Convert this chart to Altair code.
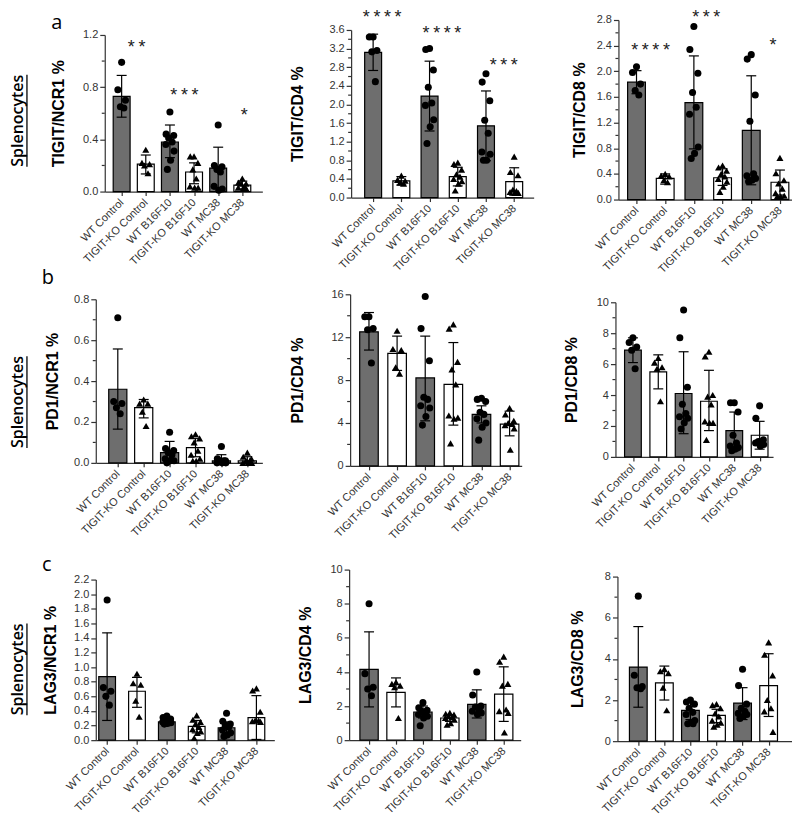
import altair as alt
import pandas as pd

GROUPS = ["WT Control", "TIGIT-KO Control", "WT B16F10", "TIGIT-KO B16F10", "WT MC38", "TIGIT-KO MC38"]
ROW_LETTERS = ["a", "b", "c"]
ROW_LABEL = "Splenocytes"

TITLES = [["TIGIT/NCR1 %", "TIGIT/CD4 %", "TIGIT/CD8 %"],
          ["PD1/NCR1 %", "PD1/CD4 %", "PD1/CD8 %"],
          ["LAG3/NCR1 %", "LAG3/CD4 %", "LAG3/CD8 %"]]

# y axis: max, major step, minor step, label format
Y_AXES = [[(1.2, 0.4, 0.2, ".1f"), (3.6, 0.4, 0.2, ".1f"), (2.8, 0.4, 0.2, ".1f")],
          [(0.8, 0.2, 0.1, ".1f"), (16, 4, 2, "d"), (10, 2, 1, "d")],
          [(2.2, 0.2, 0.2, ".1f"), (10, 2, 1, "d"), (8, 2, 1, "d")]]

# ---- TIGIT/NCR1
MEAN_A1 = [0.73, 0.21, 0.38, 0.15, 0.18, 0.05]
LO_A1 = [0.57, 0.135, 0.26, 0.06, 0.02, 0.02]
HI_A1 = [0.89, 0.28, 0.51, 0.22, 0.34, 0.08]
PTS_A1 = [[0.99, 0.78, 0.70, 0.65, 0.64],
          [0.32, 0.22, 0.21, 0.20, 0.14],
          [0.61, 0.44, 0.43, 0.41, 0.38, 0.36, 0.31, 0.24, 0.17],
          [0.27, 0.27, 0.22, 0.17, 0.10, 0.04, 0.03, 0.03],
          [0.51, 0.20, 0.19, 0.17, 0.15, 0.04, 0.02, 0.01],
          [0.10, 0.07, 0.06, 0.06, 0.04, 0.03, 0.02, 0.02]]
# ---- TIGIT/CD4
MEAN_A2 = [3.12, 0.36, 2.18, 0.45, 1.54, 0.34]
LO_A2 = [2.73, 0.27, 1.43, 0.25, 0.79, 0.05]
HI_A2 = [3.51, 0.45, 2.93, 0.65, 2.29, 0.64]
PTS_A2 = [[3.45, 3.45, 3.16, 3.13, 2.49],
          [0.47, 0.38, 0.36, 0.32, 0.30],
          [3.20, 3.18, 2.74, 2.37, 2.03, 1.98, 1.67, 1.52, 1.16],
          [0.75, 0.72, 0.60, 0.50, 0.45, 0.40, 0.35, 0.30, 0.15],
          [2.66, 2.48, 2.08, 1.66, 1.38, 0.98, 0.93, 0.80, 0.80],
          [0.88, 0.55, 0.48, 0.17, 0.14, 0.12, 0.10, 0.10]]
# ---- TIGIT/CD8
MEAN_A3 = [1.83, 0.33, 1.51, 0.34, 1.08, 0.27]
LO_A3 = [1.65, 0.24, 0.79, 0.22, 0.23, 0.07]
HI_A3 = [2.01, 0.40, 2.24, 0.48, 1.93, 0.46]
PTS_A3 = [[2.07, 1.98, 1.80, 1.70, 1.63],
          [0.40, 0.37, 0.36, 0.30, 0.27],
          [2.70, 2.34, 1.97, 1.67, 1.44, 1.33, 0.82, 0.72, 0.64],
          [0.53, 0.50, 0.45, 0.40, 0.36, 0.32, 0.28, 0.20, 0.12],
          [2.26, 2.19, 1.63, 1.22, 0.40, 0.37, 0.33, 0.30, 0.28],
          [0.65, 0.41, 0.30, 0.25, 0.17, 0.10, 0.06, 0.05, 0.05]]
# ---- PD1/NCR1
MEAN_B1 = [0.36, 0.27, 0.05, 0.075, 0.01, 0.01]
LO_B1 = [0.165, 0.22, 0.0, 0.03, 0.0, 0.0]
HI_B1 = [0.557, 0.31, 0.105, 0.12, 0.04, 0.03]
PTS_B1 = [[0.71, 0.30, 0.29, 0.27, 0.24],
          [0.31, 0.29, 0.29, 0.25, 0.18],
          [0.15, 0.07, 0.06, 0.05, 0.04, 0.02, 0.01, 0.01, 0.00],
          [0.14, 0.13, 0.12, 0.10, 0.06, 0.04, 0.02, 0.01, 0.01],
          [0.08, 0.02, 0.01, 0.01, 0.01, 0.00, 0.00, 0.00],
          [0.05, 0.03, 0.02, 0.01, 0.01, 0.00, 0.00, 0.00]]
# ---- PD1/CD4
MEAN_B2 = [12.5, 10.5, 8.2, 7.6, 4.8, 3.9]
LO_B2 = [10.8, 8.9, 4.2, 3.8, 4.0, 2.8]
HI_B2 = [14.3, 12.1, 12.1, 11.5, 5.6, 5.1]
PTS_B2 = [[13.9, 13.9, 12.8, 12.7, 9.6],
          [12.6, 10.9, 10.8, 9.2, 8.6],
          [15.8, 12.8, 9.8, 6.4, 6.2, 5.6, 5.4, 4.6, 3.8],
          [13.2, 12.8, 9.7, 9.0, 7.6, 4.7, 4.5, 4.4, 2.1],
          [6.3, 6.2, 6.0, 5.0, 4.8, 4.4, 4.0, 3.6, 2.4],
          [5.4, 4.8, 4.2, 4.0, 3.9, 3.8, 3.5, 1.5]]
# ---- PD1/CD8
MEAN_B3 = [6.9, 5.5, 4.1, 3.6, 1.7, 1.4]
LO_B3 = [6.1, 4.4, 1.5, 1.7, 0.4, 0.5]
HI_B3 = [7.7, 6.6, 6.8, 5.6, 2.9, 2.3]
PTS_B3 = [[7.7, 7.4, 7.1, 6.9, 5.7],
          [6.4, 6.1, 5.8, 5.7, 3.6],
          [9.5, 7.7, 4.5, 3.4, 2.8, 2.6, 2.5, 2.2, 1.8],
          [6.8, 6.5, 4.0, 3.9, 3.4, 2.3, 2.2, 2.2, 1.1],
          [3.5, 3.5, 2.9, 1.4, 0.9, 0.7, 0.6, 0.5, 0.4],
          [3.3, 2.5, 1.1, 1.0, 0.9, 0.9, 0.8, 0.7]]
# ---- LAG3/NCR1
MEAN_C1 = [0.87, 0.67, 0.25, 0.19, 0.17, 0.31]
LO_C1 = [0.27, 0.45, 0.22, 0.10, 0.09, 0.01]
HI_C1 = [1.47, 0.86, 0.28, 0.27, 0.25, 0.61]
PTS_C1 = [[1.92, 0.72, 0.67, 0.60, 0.48],
          [0.91, 0.78, 0.76, 0.54, 0.32],
          [0.33, 0.31, 0.29, 0.28, 0.26, 0.25, 0.24, 0.23, 0.22],
          [0.34, 0.28, 0.25, 0.22, 0.18, 0.15, 0.12, 0.10, 0.03],
          [0.37, 0.26, 0.22, 0.20, 0.18, 0.14, 0.10, 0.07, 0.05],
          [0.71, 0.68, 0.39, 0.27, 0.27, 0.26, 0.25]]
# ---- LAG3/CD4
MEAN_C2 = [4.15, 2.8, 1.65, 1.3, 2.1, 2.7]
LO_C2 = [1.95, 1.95, 1.3, 1.1, 1.3, 1.1]
HI_C2 = [6.35, 3.65, 2.0, 1.5, 2.95, 4.3]
PTS_C2 = [[8.0, 3.9, 3.1, 3.0, 2.6],
          [3.4, 3.3, 3.2, 3.1, 1.3],
          [2.2, 1.9, 1.75, 1.7, 1.6, 1.5, 1.4, 1.3, 0.85],
          [1.6, 1.55, 1.5, 1.4, 1.35, 1.3, 1.2, 1.0, 0.9],
          [4.0, 2.65, 2.0, 1.95, 1.8, 1.7, 1.6, 1.5],
          [4.9, 4.6, 3.3, 3.2, 1.8, 1.7, 1.6, 0.45]]
# ---- LAG3/CD8
MEAN_C3 = [3.6, 2.83, 1.5, 1.25, 1.85, 2.7]
LO_C3 = [1.65, 2.0, 1.05, 0.9, 1.05, 1.2]
HI_C3 = [5.57, 3.65, 1.9, 1.55, 2.6, 4.25]
PTS_C3 = [[7.05, 3.2, 2.65, 2.6, 2.55],
          [3.5, 3.4, 3.3, 2.6, 1.5],
          [2.0, 1.9, 1.8, 1.6, 1.4, 1.3, 1.0, 0.9, 0.85, 0.85],
          [1.8, 1.75, 1.6, 1.35, 1.2, 1.0, 0.9, 0.8, 0.7],
          [3.5, 2.7, 1.8, 1.6, 1.45, 1.35, 1.3, 1.2, 1.1],
          [4.8, 4.2, 3.2, 2.0, 1.6, 1.45, 0.45]]

# significance marks: (category position, y value, text)
STARS_A1 = [(0.62, 1.13, "*\u2009*"), (2.6, 0.76, "*\u2009*\u2009*"), (5.08, 0.61, "*")]
STARS_A2 = [(0.32, 3.98, "*\u2009*\u2009*\u2009*"), (2.44, 3.6, "*\u2009*\u2009*\u2009*"), (4.63, 2.9, "*\u2009*\u2009*")]
STARS_A3 = [(0.49, 2.37, "*\u2009*\u2009*\u2009*"), (2.43, 2.97, "*\u2009*\u2009*"), (4.76, 2.45, "*")]

PANELS = [[(MEAN_A1, LO_A1, HI_A1, PTS_A1, STARS_A1),
           (MEAN_A2, LO_A2, HI_A2, PTS_A2, STARS_A2),
           (MEAN_A3, LO_A3, HI_A3, PTS_A3, STARS_A3)],
          [(MEAN_B1, LO_B1, HI_B1, PTS_B1, []),
           (MEAN_B2, LO_B2, HI_B2, PTS_B2, []),
           (MEAN_B3, LO_B3, HI_B3, PTS_B3, [])],
          [(MEAN_C1, LO_C1, HI_C1, PTS_C1, []),
           (MEAN_C2, LO_C2, HI_C2, PTS_C2, []),
           (MEAN_C3, LO_C3, HI_C3, PTS_C3, [])]]

# marker shapes per group (the last PD1/CD8 group uses circles in the original)
SHAPES = [["circle", "triangle-up"] * 3 for _ in range(9)]
SHAPES[5] = ["circle", "triangle-up", "circle", "triangle-up", "circle", "circle"]

# ---------------- layout (page pixel coordinates) ----------------
# left, right, top, bottom of plot area; x-domain min/max; bar half width; title distance
LAYOUT = [[(105, 263, 34, 191, -0.70, 5.83, 0.35, 47),
           (352, 535, 29, 197, -0.78, 5.69, 0.30, 55),
           (620, 798, 19, 199, -0.63, 5.56, 0.31, 40)],
          [(96, 263, 299, 463, -0.85, 5.58, 0.35, 44),
           (351, 523, 294, 466, -0.67, 5.43, 0.33, 54),
           (617, 775, 302, 457, -0.69, 5.53, 0.33, 45)],
          [(96, 275, 580, 741, -0.38, 5.60, 0.28, 46),
           (350, 522, 570, 741, -0.74, 5.63, 0.34, 45),
           (619, 798, 577, 742, -0.80, 6.05, 0.34, 41)]]
COL_X = [0, 262, 524]
COL_W = 262
ROW_Y = [0, 266, 532]
ROW_H = 266
MARGIN = 8
JITTER = [0.0, -0.6, 0.6, -0.2, 0.35, -0.65, 0.65, 0.1, -0.4, 0.4]
LETTER_POS = [(49, 14), (40, 4), (39, 25)]
SPLEN_Y = [112, 128, 130]
STAR_SIZE = 18

FONT = "Liberation Sans"
BAR_GRAY = "#6e6e6e"
AX_COL = "#333333"

label_expr_x = "[" + ",".join("'%s'" % g for g in GROUPS) + "][datum.value]"


def panel(r, c):
    mean, lo, hi, pts, stars = PANELS[r][c]
    L, R, T, B, xmin, xmax, half, tdist = LAYOUT[r][c]
    Ll = L - MARGIN - COL_X[c]
    Rl = R - MARGIN - COL_X[c]
    Tl = T - MARGIN - ROW_Y[r]
    Bl = B - MARGIN - ROW_Y[r]
    step = (Rl - Ll) / (xmax - xmin)
    cap = 5.0 / step
    ymax, major, minor, fmt = Y_AXES[r][c]
    per_px = ymax / (Bl - Tl)
    shapes = SHAPES[r * 3 + c]

    bdf = pd.DataFrame({
        "idx": list(range(6)),
        "mean": mean, "lo": lo, "hi": hi,
        "fill": [BAR_GRAY if g.startswith("WT") else "white" for g in GROUPS],
    })
    bdf["x0"] = bdf["idx"] - half
    bdf["x1"] = bdf["idx"] + half
    bdf["cl"] = bdf["idx"] - cap
    bdf["cr"] = bdf["idx"] + cap
    bdf["base"] = 0.0

    rows = []
    for g, vals in enumerate(pts):
        for k, v in enumerate(sorted(vals, reverse=True)):
            rows.append({"px": g + JITTER[k % len(JITTER)] * half * 0.75, "v": v, "marker": shapes[g]})
    pdf = pd.DataFrame(rows)

    xs = alt.Scale(domain=[xmin, xmax], range=[Ll, Rl], nice=False, zero=False)
    ys = alt.Scale(domain=[0, ymax], range=[Bl, Tl], nice=False, zero=False)

    nmaj = int(round(ymax / major))
    ymajor = [round(k * major, 6) for k in range(nmaj + 1)]
    nmin = int(round(ymax / minor))
    yminor = [round(k * minor, 6) for k in range(nmin + 1)]
    yminor = [v for v in yminor if min(abs(v - m) for m in ymajor) > 1e-6]
    E = 26
    xaxis = alt.Axis(values=list(range(6)), labelExpr=label_expr_x, labelAngle=-45,
                     labelAlign="right", labelBaseline="middle", labelPadding=5,
                     tickSize=4, offset=Bl - ROW_H, title=None, labelFontSize=11,
                     labelFont=FONT, labelColor=AX_COL, domainColor=AX_COL, tickColor=AX_COL,
                     domainWidth=1.2, tickWidth=1.2, grid=False, labelOverlap=False,
                     labelFlush=False, labelBound=False)
    yaxis = alt.Axis(values=ymajor, format=fmt, tickSize=5,
                     offset=-Ll, title=TITLES[r][c], titleFontSize=16, titleFont=FONT,
                     titleFontWeight="bold", titleColor="black", titlePadding=tdist - 9 - E,
                     minExtent=E, maxExtent=E, labelFontSize=11, labelFont=FONT, labelPadding=2,
                     labelColor=AX_COL, domainColor=AX_COL, tickColor=AX_COL, domainWidth=1.2,
                     tickWidth=1.2, grid=False, labelFlush=False, labelOverlap=False)

    def X(f):
        return alt.X(f, scale=xs, axis=xaxis)

    def Y(f):
        return alt.Y(f, scale=ys, axis=yaxis)

    bars = alt.Chart(bdf).mark_bar(stroke="black", strokeWidth=1.2).encode(
        x=X("x0:Q"), x2="x1", y=Y("mean:Q"), y2="base",
        fill=alt.Fill("fill:N", scale=None))
    err = alt.Chart(bdf).mark_rule(color="black", strokeWidth=1.2).encode(
        x=X("idx:Q"), y=Y("lo:Q"), y2="hi")
    cap_hi = alt.Chart(bdf).mark_rule(color="black", strokeWidth=1.2).encode(
        x=X("cl:Q"), x2="cr", y=Y("hi:Q"))
    cap_lo = alt.Chart(bdf).mark_rule(color="black", strokeWidth=1.2).encode(
        x=X("cl:Q"), x2="cr", y=Y("lo:Q"))
    dots = alt.Chart(pdf).mark_point(filled=True, color="black", opacity=1, size=50).encode(
        x=X("px:Q"), y=Y("v:Q"), shape=alt.Shape("marker:N", scale=None))
    layers = [bars, err, cap_hi, cap_lo, dots]

    if yminor:
        mdf = pd.DataFrame({"mv": yminor})
        layers.append(alt.Chart(mdf).mark_rule(color=AX_COL, strokeWidth=1.2).encode(
            y=Y("mv:Q"), x=alt.value(Ll - 3), x2=alt.value(Ll)))

    if stars:
        sdf = pd.DataFrame(stars, columns=["sx", "sy", "st"])
        # anchor the em box top so that the glyph sits at the read value, kept inside the view
        top_val = ymax + Tl * per_px
        sdf["sa"] = (sdf["sy"] + 0.3 * STAR_SIZE * per_px).clip(upper=top_val)
        layers.append(alt.Chart(sdf).mark_text(font=FONT, fontSize=STAR_SIZE, color="#222",
                                               baseline="top").encode(
            x=X("sx:Q"), y=Y("sa:Q"), text="st:N"))

    if c == 0:
        lx, ly = LETTER_POS[r]
        layers.append(alt.Chart(pd.DataFrame({"t": [ROW_LETTERS[r]]})).mark_text(
            font="Open Sans", fontSize=20, color="black").encode(
            text="t:N", x=alt.value(lx), y=alt.value(ly)))
        sy = SPLEN_Y[r]
        layers.append(alt.Chart(pd.DataFrame({"t": [ROW_LABEL]})).mark_text(
            font="Open Sans", fontSize=16, fontWeight=600, angle=270, color="black").encode(
            text="t:N", x=alt.value(10), y=alt.value(sy)))
        layers.append(alt.Chart(pd.DataFrame({"t": [ROW_LABEL]})).mark_rule(
            color="black", strokeWidth=1.3).encode(
            x=alt.value(19), y=alt.value(sy - 46), y2=alt.value(sy + 46)))

    return alt.layer(*layers).properties(width=COL_W, height=ROW_H)


cells = [panel(r, c) for r in range(3) for c in range(3)]
chart = alt.concat(*cells, columns=3, spacing=0, bounds="flush").properties(padding=0).configure_view(
    stroke=None).configure_axis(grid=False)

chart.save("out.html", embed_options={"renderer": "svg", "actions": False})
